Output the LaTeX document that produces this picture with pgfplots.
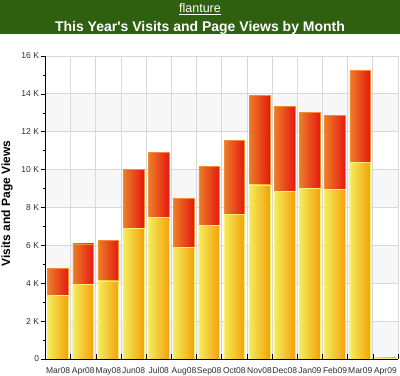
\documentclass[border=0pt]{standalone}
\usepackage{pgfplots}
\pgfplotsset{compat=1.18}
\usepackage{fontspec}
\setmainfont{Liberation Sans}
\definecolor{hdr}{RGB}{46,96,16}
\definecolor{yl}{RGB}{244,236,90}
\definecolor{yr}{RGB}{245,160,10}
\definecolor{rl}{RGB}{236,125,40}
\definecolor{rr}{RGB}{230,25,15}
\definecolor{yedge}{RGB}{250,238,120}
\definecolor{redge}{RGB}{245,140,50}
\definecolor{band}{RGB}{247,247,247}
\definecolor{gridc}{RGB}{216,216,216}
\definecolor{lbl}{RGB}{45,45,45}
\pgfplotsset{
  pv/.style={draw=redge, line width=0.6bp, left color=rl, right color=rr, bar shift=0pt},
  vi/.style={draw=yedge, line width=0.6bp, left color=yl, right color=yr, bar shift=0pt},
}
\begin{document}
\begin{tikzpicture}
\path[use as bounding box] (0,0) rectangle (400bp,376bp);
\fill[hdr] (0,341.5bp) rectangle (400bp,376bp);
\node[text=white, anchor=base, font=\fontsize{12.5bp}{14bp}\selectfont] at (200bp,363bp) {\underline{flanture}};
\node[text=white, anchor=base, font=\fontsize{14bp}{16bp}\selectfont\bfseries] at (200bp,344.5bp) {This Year\textquotesingle s Visits and Page Views by Month};
% background bands (2K each, 18.9375bp per K)
\fill[band] (45.5bp,17bp) rectangle (398bp,54.875bp);
\fill[band] (45.5bp,92.75bp) rectangle (398bp,130.625bp);
\fill[band] (45.5bp,168.5bp) rectangle (398bp,206.375bp);
\fill[band] (45.5bp,244.25bp) rectangle (398bp,282.125bp);
\begin{axis}[
  at={(45.5bp,17bp)}, anchor=south west,
  scale only axis, width=352.5bp, height=303bp,
  xmin=-0.5, xmax=13.5, ymin=0, ymax=16,
  axis lines*=left,
  axis line style={black, line width=0.8bp},
  ybar, bar width=0.82,
  xtick={-0.5,0.5,...,13.5}, x tick label as interval,
  xticklabels={Mar08,Apr08,May08,Jun08,Jul08,Aug08,Sep08,Oct08,Nov08,Dec08,Jan09,Feb09,Mar09,Apr09},
  ytick={0,2,...,16},
  yticklabels={0,2 K,4 K,6 K,8 K,10 K,12 K,14 K,16 K},
  minor y tick num=1,
  ymajorgrids, xmajorgrids,
  grid style={gridc, line width=0.8bp},
  tick style={black, line width=0.6bp},
  xtick align=inside, ytick align=outside,
  major tick length=4.5bp, minor tick length=2.5bp,
  ticklabel style={font=\fontsize{8.5bp}{10bp}\selectfont, text=lbl},
  x tick label style={font=\fontsize{8.5bp}{10bp}\selectfont, yshift=-5bp, inner xsep=0pt},
  y tick label style={xshift=1.5bp},
  ylabel={Visits and Page Views},
  every axis y label/.style={at={(rel axis cs:0,0.513)}, xshift=-38.5bp, rotate=90, anchor=center, font=\fontsize{12bp}{14bp}\selectfont\bfseries},
]
% each month: total (visits + page views) behind, visits in front; in thousands
\addplot[pv] coordinates {(0,4.80)};   \addplot[vi] coordinates {(0,3.35)};
\addplot[pv] coordinates {(1,6.08)};   \addplot[vi] coordinates {(1,3.93)};
\addplot[pv] coordinates {(2,6.28)};   \addplot[vi] coordinates {(2,4.12)};
\addplot[pv] coordinates {(3,10.00)};  \addplot[vi] coordinates {(3,6.90)};
\addplot[pv] coordinates {(4,10.92)};  \addplot[vi] coordinates {(4,7.48)};
\addplot[pv] coordinates {(5,8.49)};   \addplot[vi] coordinates {(5,5.90)};
\addplot[pv] coordinates {(6,10.16)};  \addplot[vi] coordinates {(6,7.04)};
\addplot[pv] coordinates {(7,11.56)};  \addplot[vi] coordinates {(7,7.64)};
\addplot[pv] coordinates {(8,13.93)};  \addplot[vi] coordinates {(8,9.19)};
\addplot[pv] coordinates {(9,13.34)};  \addplot[vi] coordinates {(9,8.83)};
\addplot[pv] coordinates {(10,13.02)}; \addplot[vi] coordinates {(10,9.00)};
\addplot[pv] coordinates {(11,12.88)}; \addplot[vi] coordinates {(11,8.94)};
\addplot[pv] coordinates {(12,15.22)}; \addplot[vi] coordinates {(12,10.40)};
\addplot[vi] coordinates {(13,0.06)};
\end{axis}
\end{tikzpicture}
\end{document}
